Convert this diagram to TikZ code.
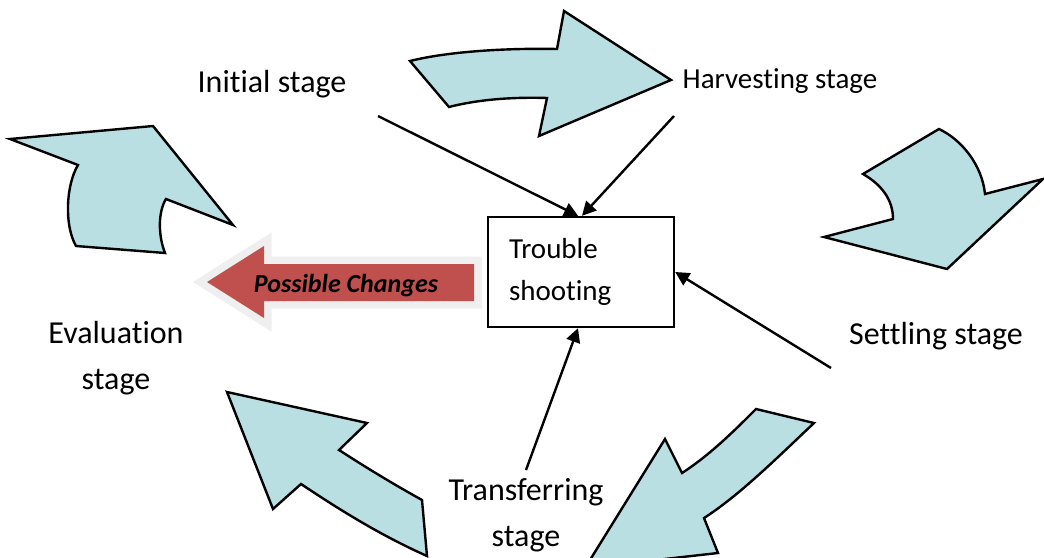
\documentclass[tikz,border=0pt]{standalone}
\usepackage{fontspec}
\setmainfont[Ligatures=CommonOff]{Carlito}
\usetikzlibrary{arrows.meta}
\tikzset{>={Triangle[width=7pt,length=7pt]}}
\definecolor{aqua}{HTML}{BADFE2}
\definecolor{brick}{HTML}{C0504D}
\definecolor{halo}{HTML}{EFEFEF}
\newcommand{\BIG}{\fontsize{16}{23}\selectfont}
\newcommand{\MID}{\fontsize{14.5}{21}\selectfont}

\begin{document}
\begin{tikzpicture}[x=0.5pt,y=-0.5pt,
  flow/.style={fill=aqua, draw=black, line width=1.2pt, line join=miter},
  stage/.style={anchor=base, inner sep=0pt, align=center},
  link/.style={->, line width=1.2pt}]
\useasboundingbox (0,0) rectangle (1044,557);
\clip (0,0) rectangle (1044,557);

\node[stage, font=\BIG] (init) at (272,92) {Initial stage};
\node[stage, font=\MID] (harv) at (780,88) {Harvesting stage};
\node[stage, font=\BIG] (settle) at (936,344) {Settling stage};
\node[stage, font=\BIG] (eval) at (116,389) {Evaluation\\stage};
\node[stage, font=\BIG] (trans) at (526,546) {Transferring\\stage};

\node[draw, line width=1.2pt, text width=72pt, inner xsep=10.5pt, minimum height=55pt,
  align=left, font=\MID] (tb) at (581,272) {Trouble\\shooting};

\draw[flow] (410,61) -- (449,107) .. controls (480,99) and (515,97) .. (547,98)
  -- (539,136) -- (671,80) -- (564,11) -- (557,49)
  .. controls (510,48) and (450,51) .. cycle;
\draw[flow] (939,129) .. controls (962,140) and (982,165) .. (985,194)
  -- (1043,179) -- (947,269) -- (824,237) -- (893,219)
  .. controls (893,200) and (882,185) .. (863,174) -- cycle;
\draw[flow] (756,409) -- (814,423) .. controls (780,455) and (740,495) .. (704,518)
  -- (718,553) -- (585,568) -- (665,439) -- (682,473)
  .. controls (710,455) and (735,430) .. cycle;
\draw[flow] (227,392) -- (367,423) -- (339,450) .. controls (370,470) and (395,485) .. (422,500)
  -- (427,556) .. controls (380,535) and (340,510) .. (301,484) -- (273,509) -- cycle;
\draw[flow] (165,253) .. controls (158,235) and (158,212) .. (166,199)
  -- (233,225) -- (153,126) -- (10,139) -- (78,165)
  .. controls (66,185) and (64,225) .. (76,246) -- cycle;

\path[fill=brick, preaction={draw=halo, line width=7.5pt, line join=miter}]
  (207,282) -- (264,246) -- (264,264) -- (474,264) -- (474,301)
  -- (264,301) -- (264,318) -- cycle;
\node[anchor=base, inner sep=0pt, font=\fontsize{13}{15}\selectfont\bfseries\itshape]
  (chg) at (346,292) {Possible Changes};

\coordinate (fromInit) at (378,116);
\coordinate (fromHarv) at (674,116);
\coordinate (fromSettle) at (831,368);
\coordinate (fromTrans) at (526,470);
\draw[link] (fromInit) -- ([xshift=-1.5pt]tb.north);
\draw[link] (fromHarv) -- ([xshift=0.5pt]tb.north);
\draw[link] (fromSettle) -- (tb.east);
\draw[link] (fromTrans) -- ([xshift=-1.5pt]tb.south);
\end{tikzpicture}
\end{document}
